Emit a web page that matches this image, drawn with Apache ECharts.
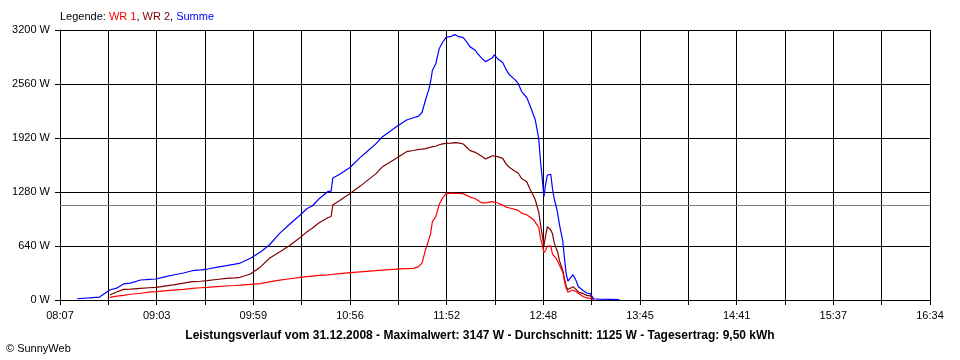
<!DOCTYPE html>
<html>
<head>
<meta charset="utf-8">
<script src="https://cdn.jsdelivr.net/npm/echarts@6/dist/echarts.min.js"></script>
<style>html,body{margin:0;padding:0;background:#fff;}#c{width:960px;height:360px;}</style>
</head>
<body>
<div id="c"></div>
<script>
// Time of day (HH:MM) for each sample
const times = ["08:17","08:24","08:30","08:36","08:40","08:44","08:48","08:54","08:59","09:03",
"09:08","09:13","09:19","09:24","09:29","09:33","09:38","09:44","09:49","09:52",
"09:58","10:04","10:09","10:15","10:21","10:27","10:31","10:34","10:38","10:43",
"10:45","10:46","10:50","10:56","11:02","11:06","11:11","11:15","11:19","11:23",
"11:29","11:33","11:36","11:38","11:40","11:42","11:43","11:44","11:46","11:48",
"11:50","11:52","11:55","11:57","11:59","12:02","12:04","12:06","12:09","12:10",
"12:13","12:15","12:17","12:19","12:20","12:22","12:25","12:27","12:29","12:32",
"12:34","12:36","12:39","12:41","12:43","12:44","12:46","12:47","12:48","12:49",
"12:50","12:51","12:53","12:54","12:55","12:56","12:57","12:58","13:00","13:01",
"13:02","13:03","13:04","13:06","13:08","13:09","13:12","13:14","13:16","13:18",
"13:21","13:27","13:33"];
// WR 1 (W)
const wr1 = [null,null,null,32,45,55,68,80,93,99,
108,117,127,138,145,150,158,166,172,176,
186,195,215,235,252,269,277,283,291,298,
302,304,312,324,334,340,347,355,361,366,
372,375,395,440,593,720,790,928,988,1135,
1210,1260,1266,1264,1262,1260,1240,1220,1200,1185,
1150,1150,1160,1165,1170,1150,1125,1100,1090,1075,
1062,1030,1010,980,950,945,860,730,660,560,
590,640,640,545,525,495,460,440,330,220,
140,91,100,118,95,75,38,25,20,3,
null,null,null];
// WR 2 (W)
const wr2 = [null,null,null,59,95,126,130,138,145,150,
165,180,200,217,222,229,243,257,263,269,
308,395,494,570,650,740,810,850,915,975,
990,1126,1180,1262,1350,1415,1495,1580,1630,1679,
1758,1772,1786,1789,1795,1805,1810,1817,1822,1840,
1850,1857,1860,1865,1862,1849,1810,1770,1750,1738,
1700,1671,1690,1710,1727,1700,1679,1610,1570,1530,
1505,1440,1402,1310,1230,1185,1040,900,770,640,
760,869,830,785,680,620,570,470,350,250,
160,125,130,158,120,95,75,55,50,10,
null,null,null];
// Summe (W)
const summe = [15,25,35,118,140,190,200,237,245,249,
275,296,320,347,357,367,387,407,425,438,
494,573,652,790,900,1007,1085,1114,1200,1284,
1290,1446,1490,1570,1690,1760,1850,1936,1995,2054,
2133,2160,2180,2225,2370,2500,2590,2720,2800,2980,
3055,3112,3125,3145,3125,3109,3060,3000,2960,2930,
2860,2825,2848,2870,2905,2860,2815,2730,2666,2615,
2568,2470,2400,2300,2190,2133,1910,1650,1450,1224,
1370,1480,1490,1320,1200,1120,1030,900,700,490,
310,225,240,300,218,160,110,82,75,15,
10,8,5];
const average = 1125;
const yMax = 3200, yStep = 640;
const startMin = 8 * 60 + 7, endMin = 16 * 60 + 34;

const totalSec = (endMin - startMin) * 60;   // 30420
const tickSec = totalSec / 18;                // 1690
function toSec(t) { const p = t.split(':').map(Number); return (p[0] * 60 + p[1] - startMin) * 60; }
function pairs(vals) { const out = []; times.forEach((t, i) => { if (vals[i] != null) out.push([toSec(t), vals[i]]); }); return out; }
function fmtTime(v) {
  const k = Math.round(v / tickSec);
  if (k % 2 !== 0) return '';
  const m = Math.floor(startMin + v / 60 + 1e-6);
  const h = Math.floor(m / 60), mm = m % 60;
  return (h < 10 ? '0' : '') + h + ':' + (mm < 10 ? '0' : '') + mm;
}
const font = '"Liberation Sans", Arial, sans-serif';
const chart = echarts.init(document.getElementById('c'), null, { renderer: 'canvas' });
chart.setOption({
  animation: false,
  backgroundColor: '#ffffff',
  textStyle: { fontFamily: font },
  title: [
    { left: 60, top: 11, padding: 0, text: '{a|Legende: }{r|WR 1}{a|, }{d|WR 2}{a|, }{b|Summe}',
      textStyle: { fontSize: 11, fontWeight: 'normal', rich: {
        a: { color: '#000', fontSize: 11, fontFamily: font },
        r: { color: '#ff0000', fontSize: 11, fontFamily: font },
        d: { color: '#800000', fontSize: 11, fontFamily: font },
        b: { color: '#0000ff', fontSize: 11, fontFamily: font } } } },
    { left: 'center', top: 330, padding: 0,
      text: 'Leistungsverlauf vom 31.12.2008 - Maximalwert: 3147 W - Durchschnitt: 1125 W - Tagesertrag: 9,50 kWh',
      textStyle: { fontSize: 12, fontWeight: 'bold', color: '#000', fontFamily: font } },
    { left: 6, top: 343, padding: 0, text: '© SunnyWeb',
      textStyle: { fontSize: 11, fontWeight: 'normal', color: '#000', fontFamily: font } }
  ],
  grid: { left: 60, right: 30, top: 30, bottom: 60, containLabel: false },
  xAxis: {
    type: 'value', min: 0, max: totalSec, interval: tickSec,
    axisLine: { show: true, lineStyle: { color: '#000', width: 1 } },
    axisTick: { show: true, length: 5, lineStyle: { color: '#000' } },
    splitLine: { show: true, lineStyle: { color: '#000', width: 1 } },
    axisLabel: { formatter: fmtTime, color: '#000', fontSize: 11, margin: 10, showMaxLabel: true, showMinLabel: true }
  },
  yAxis: {
    type: 'value', min: 0, max: yMax, interval: yStep,
    axisLine: { show: true, lineStyle: { color: '#000', width: 1 } },
    axisTick: { show: true, length: 5, lineStyle: { color: '#000' } },
    splitLine: { show: true, lineStyle: { color: '#000', width: 1 } },
    axisLabel: { formatter: v => v + ' W', color: '#000', fontSize: 11, margin: 10 }
  },
  series: [
    { name: 'WR 2', type: 'line', data: pairs(wr2), showSymbol: false, symbol: 'none',
      lineStyle: { color: '#800000', width: 1.2 }, z: 3 },
    { name: 'WR 1', type: 'line', data: pairs(wr1), showSymbol: false, symbol: 'none',
      lineStyle: { color: '#ff0000', width: 1.2 }, z: 4 },
    { name: 'Summe', type: 'line', data: pairs(summe), showSymbol: false, symbol: 'none',
      lineStyle: { color: '#0000ff', width: 1.2 }, z: 5,
      markLine: { silent: true, symbol: 'none', label: { show: false },
        lineStyle: { color: '#808080', width: 1, type: 'solid' },
        data: [{ yAxis: average }], z: 2 } }
  ]
});
</script>
</body>
</html>
